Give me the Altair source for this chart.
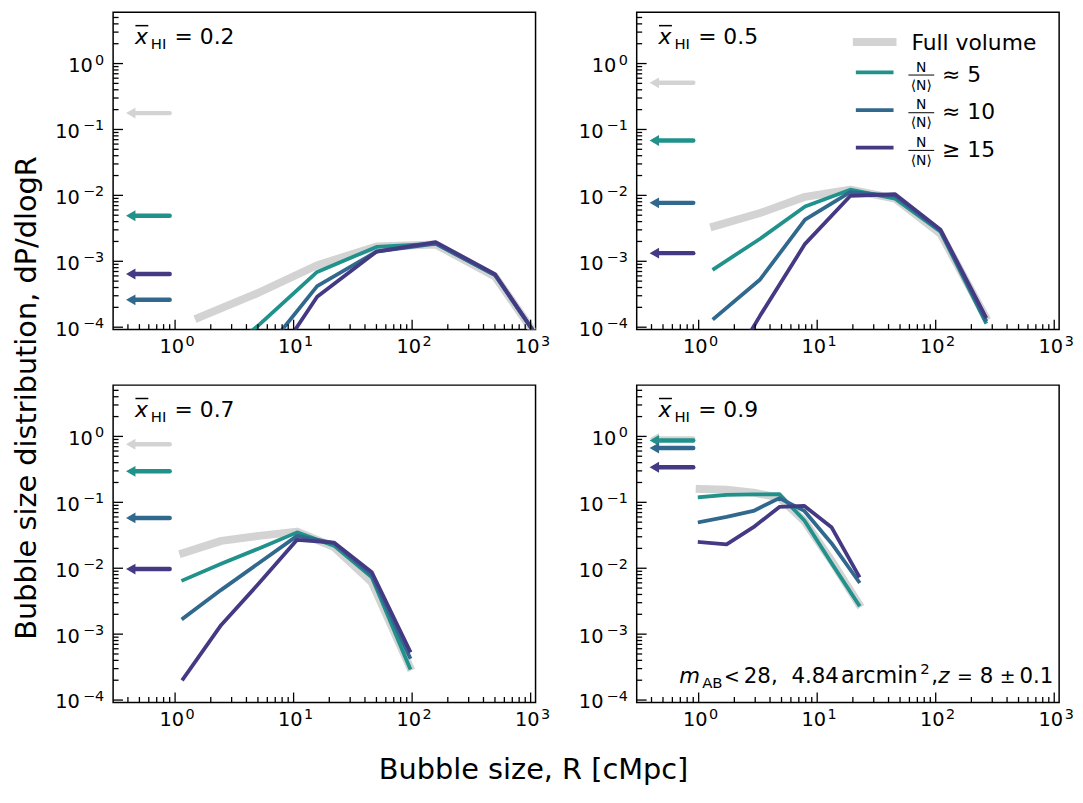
import altair as alt
import pandas as pd

FONT = "DejaVu Sans"
W, H = 426, 320

# ---------------- axes / ticks ----------------
X_DOMAIN = [0.3, 1100]
Y_DOMAIN = [9.2e-5, 6]
X_MAJOR = [1, 10, 100, 1000]
Y_MAJOR = [1e-4, 1e-3, 1e-2, 1e-1, 1]
MINOR_MULT = [2, 3, 4, 5, 6, 7, 8, 9]
TICK_BASE = "10"
X_EXPONENTS = ["0", "1", "2", "3"]
Y_EXPONENTS = ["−4", "−3", "−2", "−1", "0"]

# ---------------- series ----------------
SERIES = ["Full volume", "N/<N> ≈ 5", "N/<N> ≈ 10", "N/<N> ≥ 15"]
COLORS = ["#d3d3d3", "#21918c", "#31688e", "#443983"]
LINE_W = [8, 3.8, 3.8, 3.8]

# x_HI = 0.2
R_02 = [1.58, 5.0, 15.8, 50.0, 158, 500, 1580]
full_02 = [1.4e-4, 3.3e-4, 8.7e-4, 1.68e-3, 1.8e-3, 5.9e-4, 3e-5]
n5_02 = [2e-5, 1.05e-4, 6.9e-4, 1.65e-3, 1.85e-3, 6.2e-4, 3e-5]
n10_02 = [3e-6, 3.2e-5, 4.2e-4, 1.4e-3, 1.85e-3, 6.2e-4, 3e-5]
n15_02 = [1e-6, 1.3e-5, 2.9e-4, 1.4e-3, 1.95e-3, 6.4e-4, 3e-5]
arrows_02 = [0.177, 4.9e-3, 2.6e-4, 6.4e-4]

# x_HI = 0.5
R_05 = [1.35, 3.3, 7.9, 19.0, 45.5, 110, 263]
full_05 = [3.4e-3, 5.4e-3, 9.5e-3, 0.0122, 8.9e-3, 2.6e-3, 1.45e-4]
n5_05 = [7.7e-4, 2.2e-3, 6.8e-3, 0.0122, 8.9e-3, 2.8e-3, 1.2e-4]
n10_05 = [1.36e-4, 5.3e-4, 4.3e-3, 0.0112, 9.8e-3, 2.9e-3, 1.3e-4]
n15_05 = [1e-5, 1.5e-4, 1.84e-3, 9.8e-3, 0.0104, 3.0e-3, 1.45e-4]
arrows_05 = [0.51, 0.068, 7.7e-3, 1.33e-3]

# x_HI = 0.7
R_07 = [1.17, 2.45, 5.1, 10.7, 21.9, 45.7, 95.5]
full_07 = [0.017, 0.026, 0.031, 0.036, 0.021, 0.0061, 3.2e-4]
n5_07 = [0.0066, 0.0117, 0.020, 0.035, 0.022, 0.0073, 3.1e-4]
n10_07 = [1.74e-3, 4.7e-3, 0.012, 0.031, 0.024, 7.8e-3, 4.5e-4]
n15_07 = [2.1e-4, 1.38e-3, 5.9e-3, 0.027, 0.0245, 8.7e-3, 5.6e-4]
arrows_07 = [0.76, 0.295, 0.058, 9.7e-3]

# x_HI = 0.9
R_09 = [1.02, 1.72, 2.9, 4.8, 7.8, 13.2, 22.4]
full_09 = [0.16, 0.155, 0.14, 0.118, 0.052, 0.013, 2.9e-3]
n5_09 = [0.12, 0.13, 0.132, 0.133, 0.053, 0.012, 2.8e-3]
n10_09 = [0.05, 0.06, 0.074, 0.116, 0.074, 0.024, 6.3e-3]
n15_09 = [0.025, 0.023, 0.042, 0.085, 0.088, 0.042, 7.7e-3]
arrows_09 = [0.93, 0.87, 0.665, 0.34]

ARROW_TAIL = 0.9
ARROW_TIP = 0.38

PANEL_TAGS = ["0.2", "0.5", "0.7", "0.9"]
PANELS = [
    (R_02, [full_02, n5_02, n10_02, n15_02], arrows_02),
    (R_05, [full_05, n5_05, n10_05, n15_05], arrows_05),
    (R_07, [full_07, n5_07, n10_07, n15_07], arrows_07),
    (R_09, [full_09, n5_09, n10_09, n15_09], arrows_09),
]

# texts
X_TITLE = "Bubble size, R [cMpc]"
Y_TITLE = "Bubble size distribution, dP/dlogR"
LEGEND_FULL = "Full volume"
FRAC_NUM = "N"
FRAC_DEN = "⟨N⟩"
RELATIONS = ["≈ 5", "≈ 10", "≥ 15"]
# annotation pieces: (text, x, dy, size, italic)
ANNOT = [
    ("m", 43, 0, 21.5, True),
    ("AB", 66, 5, 15, False),
    ("<", 88, 0, 19, False),
    ("28,", 108, 0, 21.5, False),
    ("4.84", 156, 0, 21.5, False),
    ("arcmin", 206, 0, 22.5, False),
    ("2", 286, -9, 15, False),
    (",", 297, 0, 21.5, False),
    ("z", 304, 0, 21.5, True),
    ("=", 323, 0, 19, False),
    ("8", 346, 0, 21.5, False),
    ("±", 366, 0, 19, False),
    ("0.1", 386, 0, 21.5, False),
]

BASE_FS = 19.5
EXP_FS = 14.5

# ---------------- helpers ----------------
xs = alt.Scale(type="log", domain=X_DOMAIN, nice=False)
ys = alt.Scale(type="log", domain=Y_DOMAIN, nice=False)
cscale = alt.Scale(domain=SERIES, range=COLORS)

x_minor = [m * 10 ** k for k in range(-1, 4) for m in MINOR_MULT
           if X_DOMAIN[0] * 1.01 < m * 10 ** k < X_DOMAIN[1] * 0.99]
y_minor = [m * 10 ** k for k in range(-5, 1) for m in MINOR_MULT
           if Y_DOMAIN[0] * 1.01 < m * 10 ** k < Y_DOMAIN[1] * 0.99]

DUMMY = pd.DataFrame({"a": [0]})


def X(f):
    return alt.X(f, scale=xs, axis=None)


def Y(f):
    return alt.Y(f, scale=ys, axis=None)


def text_layer(txt, x, y, size, align="left", baseline="alphabetic", italic=False, angle=None):
    mk = dict(align=align, baseline=baseline, font=FONT, fontSize=size, color="black")
    if italic:
        mk["fontStyle"] = "italic"
    if angle is not None:
        mk["angle"] = angle
    return alt.Chart(pd.DataFrame({"t": [txt]})).mark_text(**mk).encode(
        x=alt.value(x), y=alt.value(y), text="t:N")


def hrule(x1, x2, y, color, width, cap="butt"):
    return alt.Chart(DUMMY).mark_rule(color=color, strokeWidth=width, strokeCap=cap).encode(
        x=alt.value(x1), x2=alt.value(x2), y=alt.value(y))


def tick_layers():
    out = []
    for vals, ln in ((Y_MAJOR, 10), (y_minor, 5.5)):
        out.append(alt.Chart(pd.DataFrame({"v": vals})).mark_rule(color="black", strokeWidth=1.3).encode(
            y=Y("v:Q"), x=alt.value(0), x2=alt.value(ln)))
    for vals, ln in ((X_MAJOR, 10), (x_minor, 5.5)):
        out.append(alt.Chart(pd.DataFrame({"v": vals})).mark_rule(color="black", strokeWidth=1.3).encode(
            x=X("v:Q"), y=alt.value(H), y2=alt.value(H - ln)))
    # tick labels 10^k
    ydf = pd.DataFrame({"v": Y_MAJOR, "e": Y_EXPONENTS, "b": [TICK_BASE] * len(Y_MAJOR)})
    yneg = ydf[ydf["v"] < 1]
    yzero = ydf[ydf["v"] >= 1]
    tk = dict(font=FONT, color="black")
    out.append(alt.Chart(yneg).mark_text(align="right", baseline="alphabetic", fontSize=BASE_FS,
                                         dy=8.5, **tk).encode(y=Y("v:Q"), x=alt.value(-33.5), text="b:N"))
    out.append(alt.Chart(yzero).mark_text(align="right", baseline="alphabetic", fontSize=BASE_FS,
                                          dy=8.5, **tk).encode(y=Y("v:Q"), x=alt.value(-20.5), text="b:N"))
    out.append(alt.Chart(ydf).mark_text(align="right", baseline="alphabetic", fontSize=EXP_FS,
                                        dy=1, **tk).encode(y=Y("v:Q"), x=alt.value(-9), text="e:N"))
    xdf = pd.DataFrame({"v": X_MAJOR, "e": X_EXPONENTS, "b": [TICK_BASE] * len(X_MAJOR)})
    out.append(alt.Chart(xdf).mark_text(align="right", baseline="alphabetic", fontSize=BASE_FS,
                                        dx=9, **tk).encode(x=X("v:Q"), y=alt.value(H + 23.7), text="b:N"))
    out.append(alt.Chart(xdf).mark_text(align="left", baseline="alphabetic", fontSize=EXP_FS,
                                        dx=10.5, **tk).encode(x=X("v:Q"), y=alt.value(H + 17), text="e:N"))
    return out


def panel(idx):
    R, series_vals, arrow_vals = PANELS[idx]
    layers = []
    for name, vals, col, lw in zip(SERIES, series_vals, COLORS, LINE_W):
        df = pd.DataFrame({"R": R, "P": vals, "i": list(range(len(R)))})
        layers.append(alt.Chart(df).mark_line(color=col, strokeWidth=lw, clip=True,
                                              strokeCap="square", strokeJoin="round").encode(
            x=X("R:Q"), y=Y("P:Q"), order="i:Q"))
    adf = pd.DataFrame({"series": SERIES, "y": arrow_vals,
                        "tail": [ARROW_TAIL] * 4, "tip": [ARROW_TIP] * 4})
    layers.append(alt.Chart(adf).mark_rule(strokeWidth=4.5, strokeCap="round", x2Offset=6).encode(
        x=X("tail:Q"), x2="tip:Q", y=Y("y:Q"),
        color=alt.Color("series:N", scale=cscale, legend=None)))
    layers.append(alt.Chart(adf).mark_point(shape="triangle-left", filled=True, size=121,
                                            xOffset=5.5, opacity=1).encode(
        x=X("tip:Q"), y=Y("y:Q"),
        color=alt.Color("series:N", scale=cscale, legend=None)))
    layers += tick_layers()
    # panel label  x̄_HI = tag
    layers.append(text_layer("x", 22, 32, 22, italic=True))
    layers.append(hrule(22.5, 35.5, 13.5, "black", 1.5))
    layers.append(text_layer("HI", 38, 37, 15))
    layers.append(text_layer("= " + PANEL_TAGS[idx], 62, 32, 22))

    if idx == 0:
        layers.append(text_layer(Y_TITLE, -87, 389, 29, align="center", baseline="middle", angle=270))
    if idx == 1:
        layers.append(hrule(218, 262, 30, COLORS[0], 8))
        layers.append(text_layer(LEGEND_FULL, 277, 38, 22))
        for k in range(3):
            yl = 60.6 + 38 * k
            layers.append(hrule(221, 259, yl, COLORS[k + 1], 3.8))
            layers.append(text_layer(FRAC_NUM, 287, yl - 0.6, 14, align="center"))
            layers.append(hrule(274, 300, yl + 2.7, "black", 1))
            layers.append(text_layer(FRAC_DEN, 287, yl + 17.5, 14, align="center"))
            layers.append(text_layer(RELATIONS[k], 308, yl + 9.4, 22))
    if idx == 2:
        layers.append(text_layer(X_TITLE, 424, H + 76.7, 29, align="center"))
    if idx == 3:
        base = H - 19.5
        for txt, x, dy, size, italic in ANNOT:
            layers.append(text_layer(txt, x, base + dy, size, italic=italic))
    return alt.layer(*layers).properties(width=W, height=H)


chart = alt.concat(*[panel(i) for i in range(4)], columns=2,
                   spacing={"row": 56, "column": 102}, bounds="flush").properties(
    padding={"left": 4, "top": 0, "right": 0, "bottom": 2}
).configure(font=FONT).configure_view(stroke="black", strokeWidth=1.5)

chart.save("out.html", embed_options={"renderer": "svg", "actions": False})
